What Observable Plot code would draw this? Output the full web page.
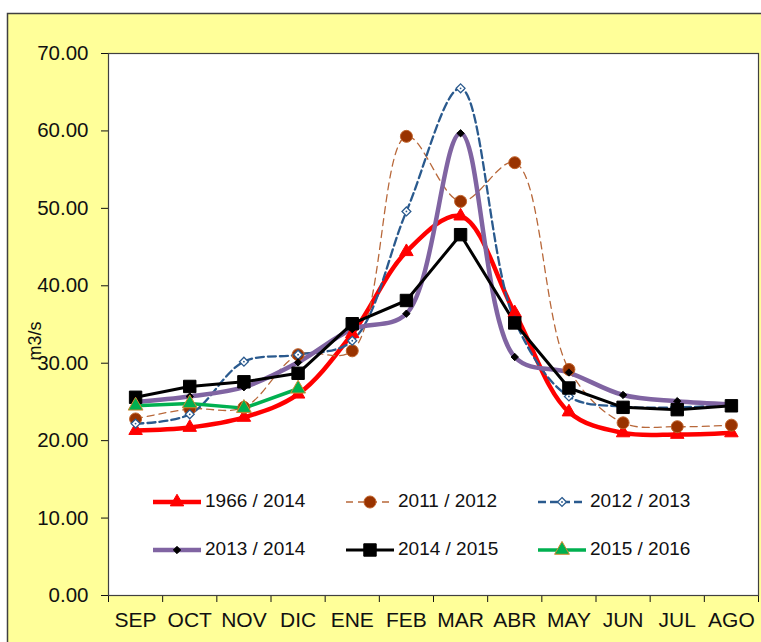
<!DOCTYPE html>
<html><head><meta charset="utf-8">
<script src="https://cdn.jsdelivr.net/npm/d3@7"></script>
<script src="https://cdn.jsdelivr.net/npm/@observablehq/plot@0.6"></script>
<style>body{margin:0;background:#fff;} #chart svg{display:block;}</style>
</head><body><div id="chart"></div>
<script>
const months = ["SEP","OCT","NOV","DIC","ENE","FEB","MAR","ABR","MAY","JUN","JUL","AGO"];
const seriesNames = ["1966 / 2014","2011 / 2012","2012 / 2013","2013 / 2014","2014 / 2015","2015 / 2016"];
const v1966_2014 = [21.3,21.7,23.0,26.0,33.8,44.4,49.0,36.5,23.7,21.0,20.8,21.0];
const v2011_2012 = [22.8,24.1,24.3,31.1,31.6,59.3,50.9,55.9,29.2,22.3,21.8,22.0];
const v2012_2013 = [22.2,23.4,30.2,31.1,32.9,49.6,65.5,35.5,25.7,24.4,24.3,24.6];
const v2013_2014 = [25.0,25.7,26.9,30.1,34.4,36.4,59.7,30.8,28.8,25.9,25.1,24.7];
const v2014_2015 = [25.6,27.0,27.6,28.7,35.1,38.1,46.6,35.2,26.8,24.3,24.0,24.5];
const v2015_2016 = [24.5,24.8,24.2,26.7];
const yTicks = [0,10,20,30,40,50,60,70];
const yLabel = "m3/s";

const seriesValues = [v1966_2014, v2011_2012, v2012_2013, v2013_2014, v2014_2015, v2015_2016];

// styles (not data)
const styles = [
  {stroke:"#FF0000", sw:4.5, dash:null, curve:"catmull-rom", symbol:"triangle", r:5, fill:"#FF0000", mstroke:"#FF0000"},
  {stroke:"#B8683A", sw:1.3, dash:"7,5", curve:"catmull-rom", symbol:"circle", r:6, fill:"#993300", mstroke:"#C0622A"},
  {stroke:"#2A5A8E", sw:2.3, dash:"8,4", curve:"catmull-rom", symbol:"diamond2", r:4, fill:"white", mstroke:"#2A5A8E"},
  {stroke:"#8064A2", sw:4.5, dash:null, curve:"catmull-rom", symbol:"diamond2", r:3.3, fill:"black", mstroke:"black"},
  {stroke:"#000000", sw:3, dash:null, curve:"linear", symbol:"square", r:7, fill:"black", mstroke:"black"},
  {stroke:"#00B050", sw:3.5, dash:null, curve:"linear", symbol:"triangle", r:5.5, fill:"#00B050", mstroke:"#D08A30"}
];

const tables = seriesValues.map((vals, s) => vals.map((v, i) => ({name: seriesNames[s], month: months[i], x: i + 0.5, v})));

const marks = [
  Plot.frame({fill:"white"}),
  Plot.axisY(yTicks, {tickSize:7, tickPadding:13, tickFormat: d => d.toFixed(2), fontSize:20.5, label:null, fill:"#111"}),
  Plot.axisX(d3.range(13), {tickSize:7, tickFormat: () => "", label:null}),
  Plot.axisX(months.map((m, i) => i + 0.5), {tickSize:0, tickPadding:17, tickFormat: d => months[Math.floor(d)], fontSize:21, label:null, fill:"#111"})
];
tables.forEach((t, s) => {
  const st = styles[s];
  marks.push(Plot.line(t, {x:"x", y:"v", stroke:st.stroke, strokeWidth:st.sw, strokeDasharray:st.dash, curve:st.curve}));
});
tables.forEach((t, s) => {
  const st = styles[s];
  marks.push(Plot.dot(t, {x:"x", y:"v", symbol:st.symbol, r:st.r, fill:st.fill, stroke:st.mstroke, strokeWidth: s===2?1.3:1}));
  if (s === 2) marks.push(Plot.dot(t, {x:"x", y:"v", r:0.9, fill:st.stroke, stroke:null}));
});
marks.push(Plot.frame({stroke:"#404040", strokeWidth:1.2}));

const chart = Plot.plot({
  width:761, height:642,
  marginLeft:108, marginRight:3, marginTop:53, marginBottom:47,
  style:{background:"transparent", fontFamily:"'Liberation Sans', Arial, sans-serif", color:"#111"},
  x:{domain:[0,12], axis:null},
  y:{domain:[0,70], axis:null},
  marks
});
document.getElementById("chart").append(chart);

const svg = d3.select(chart);
svg.insert("rect", ":first-child")
  .attr("x", 7.5).attr("y", 13.5).attr("width", 800).attr("height", 700)
  .attr("fill", "#FFFF99").attr("stroke", "#404040").attr("stroke-width", 1.5);
svg.insert("rect", ":first-child")
  .attr("x", 0).attr("y", 0).attr("width", 761).attr("height", 642).attr("fill", "#fff");

// y label
svg.append("text").attr("transform", "translate(36,341) rotate(-90)")
  .attr("text-anchor", "middle").attr("dominant-baseline", "middle")
  .attr("font-family", "'Liberation Sans', Arial, sans-serif").attr("font-size", 18).attr("fill", "#111")
  .text(yLabel);

// legend
const symMap = {triangle:d3.symbolTriangle, circle:d3.symbolCircle, diamond2:d3.symbolDiamond2, square:d3.symbolSquare};
const colX = [153, 346, 538], rowY = [502, 550];
const lg = svg.append("g");
seriesNames.forEach((name, i) => {
  const st = styles[i];
  const x0 = colX[i % 3], y0 = rowY[Math.floor(i / 3)];
  const g = lg.append("g");
  g.append("line").attr("x1", x0).attr("x2", x0 + 48).attr("y1", y0).attr("y2", y0)
    .attr("stroke", st.stroke).attr("stroke-width", st.sw).attr("stroke-dasharray", st.dash);
  g.append("path").attr("transform", `translate(${x0 + 24},${y0})`)
    .attr("d", d3.symbol(symMap[st.symbol], Math.PI * st.r * st.r)())
    .attr("fill", st.fill).attr("stroke", st.mstroke).attr("stroke-width", i===2?1.3:1);
  if (i === 2) g.append("circle").attr("cx", x0 + 24).attr("cy", y0).attr("r", 0.9).attr("fill", st.stroke);
  g.append("text").attr("x", x0 + 52).attr("y", y0).attr("dominant-baseline", "middle")
    .attr("text-anchor", "start")
    .attr("font-family", "'Liberation Sans', Arial, sans-serif").attr("font-size", 19).attr("fill", "#111")
    .text(name);
});
</script>
</body></html>
